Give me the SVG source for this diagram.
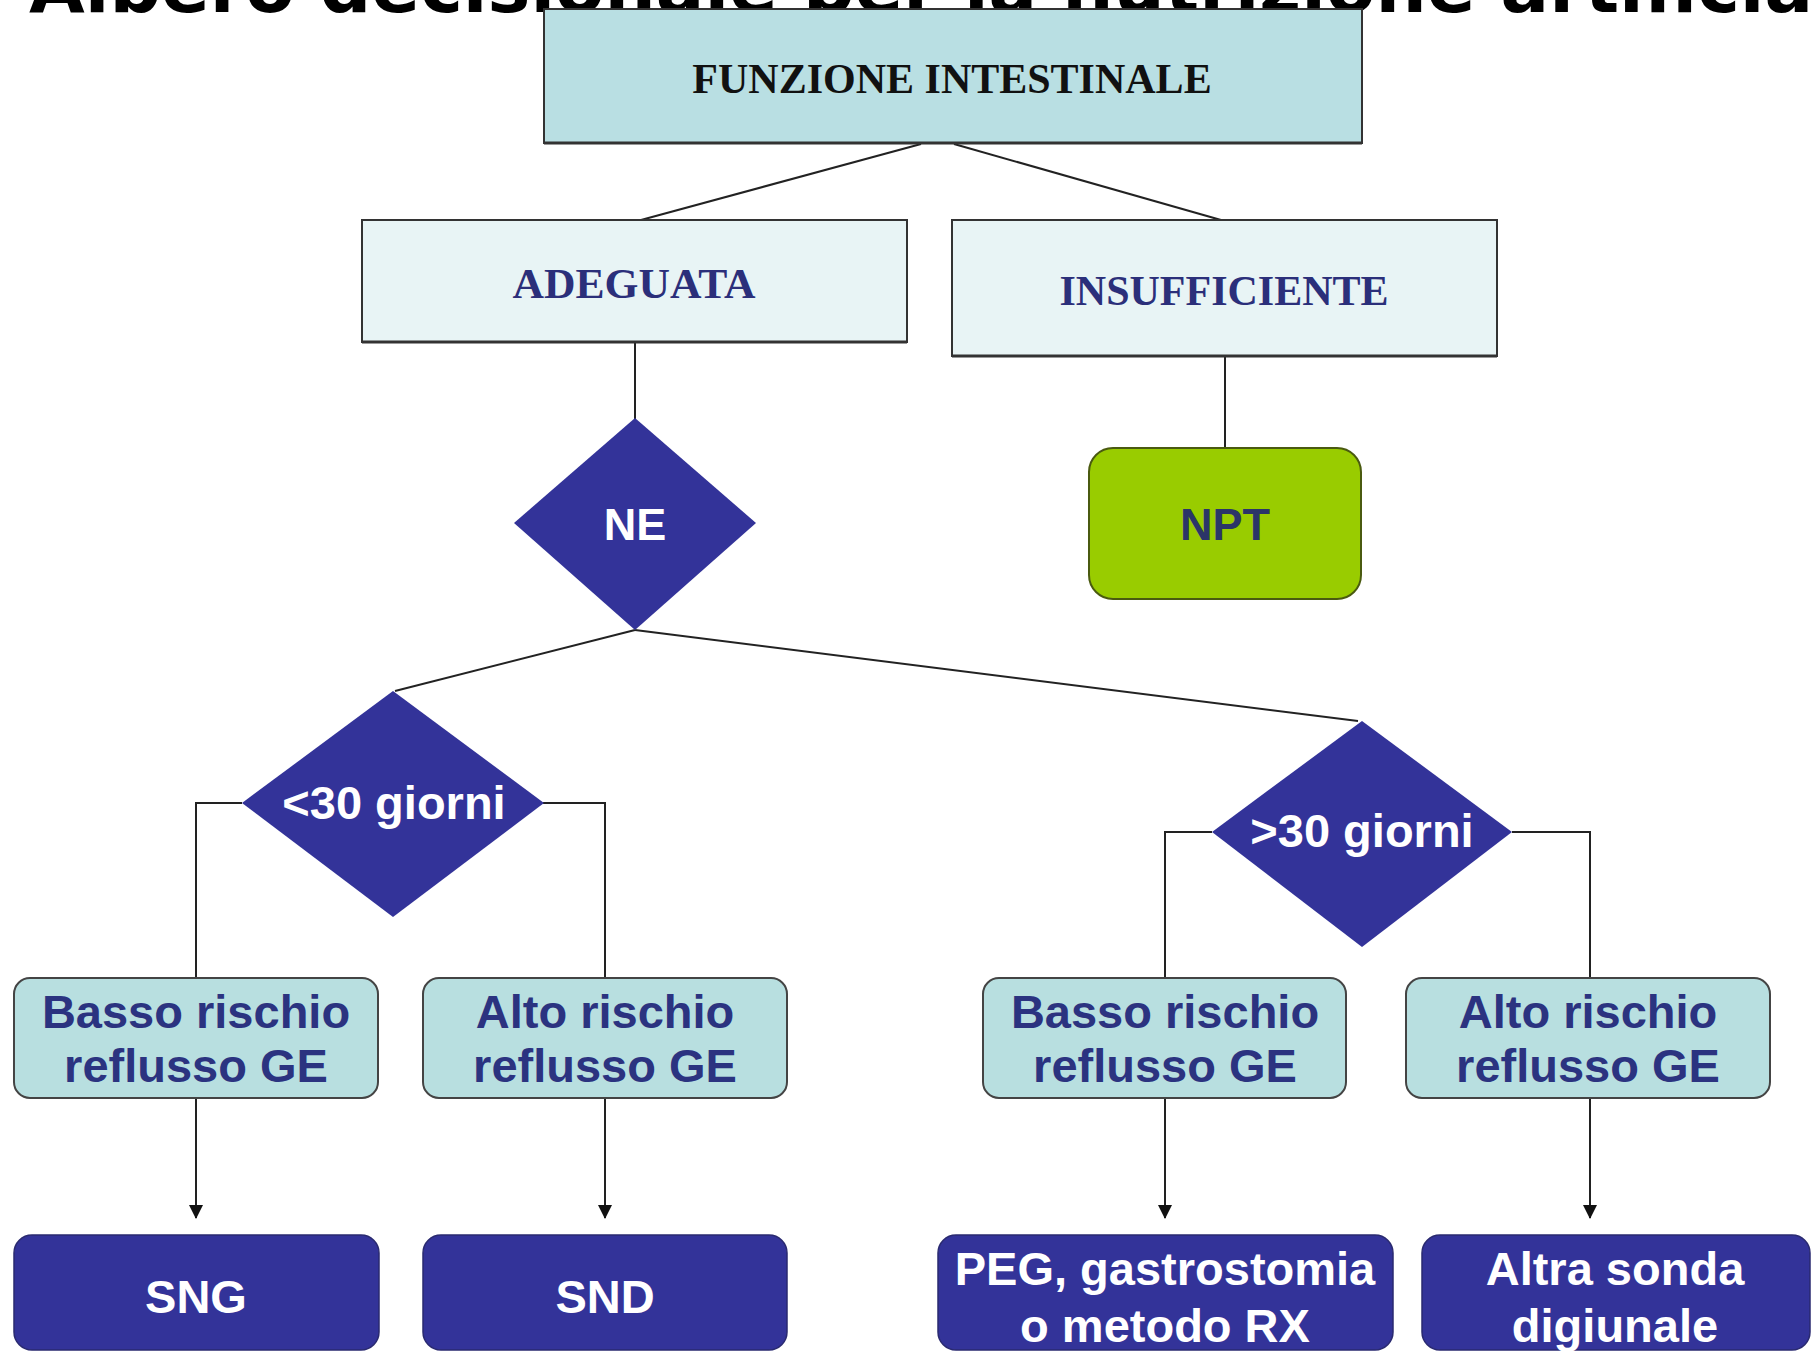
<svg xmlns="http://www.w3.org/2000/svg" width="1814" height="1352" viewBox="0 0 1814 1352">
<defs>
<marker id="arr" markerWidth="14" markerHeight="14" refX="13" refY="7" orient="auto" markerUnits="userSpaceOnUse" viewBox="0 0 14 14">
<path d="M0,0 L14,7 L0,14 Z" fill="#111"/>
</marker>
</defs>
<style>
.title{font-family:"DejaVu Sans",Verdana,sans-serif;font-weight:bold;font-size:72px;fill:#000}
.serif{font-family:"Liberation Serif","Times New Roman",serif;font-weight:bold;font-size:42px;text-anchor:middle}
.sans{font-family:"Liberation Sans",Arial,sans-serif;font-weight:bold;font-size:47px;text-anchor:middle}
.w{fill:#ffffff}
.n{fill:#2b3380}
.line{stroke:#222;stroke-width:2;fill:none}
.sq{stroke:#333;stroke-width:2}
.risk{fill:#b8dfe0;stroke:#444;stroke-width:2}
.dk{fill:#333399;stroke:#2a2a70;stroke-width:1.5}
.dia{fill:#333399}
</style>
<rect x="0" y="0" width="1814" height="1352" fill="#ffffff"/>

<text class="title" x="29" y="12">Albero decisionale per la nutrizione artificiale</text>

<g id="connectors">
<line class="line" x1="921" y1="144" x2="641" y2="220"/>
<line class="line" x1="954" y1="144" x2="1221" y2="220"/>
<line class="line" x1="635" y1="342" x2="635" y2="419"/>
<line class="line" x1="1225" y1="356" x2="1225" y2="448"/>
<line class="line" x1="635" y1="630" x2="395" y2="691"/>
<line class="line" x1="635" y1="630" x2="1358" y2="721"/>
<polyline class="line" points="242,803 196,803 196,978"/>
<polyline class="line" points="543,803 605,803 605,978"/>
<polyline class="line" points="1212,832 1165,832 1165,978"/>
<polyline class="line" points="1512,832 1590,832 1590,978"/>
<line class="line" x1="196" y1="1098" x2="196" y2="1218" marker-end="url(#arr)"/>
<line class="line" x1="605" y1="1098" x2="605" y2="1218" marker-end="url(#arr)"/>
<line class="line" x1="1165" y1="1098" x2="1165" y2="1218" marker-end="url(#arr)"/>
<line class="line" x1="1590" y1="1098" x2="1590" y2="1218" marker-end="url(#arr)"/>
</g>

<g id="funzione">
<rect x="544" y="9" width="818" height="134" fill="#b9dfe3" class="sq"/>
<line x1="544" y1="143" x2="1362" y2="143" stroke="#333" stroke-width="3"/>
<text class="serif" x="952" y="93" fill="#111">FUNZIONE INTESTINALE</text>
</g>

<g id="adeguata">
<rect x="362" y="220" width="545" height="122" fill="#e8f4f5" class="sq"/>
<line x1="362" y1="342" x2="907" y2="342" stroke="#333" stroke-width="3"/>
<text class="serif" x="634" y="298" fill="#2b2f7a" textLength="243" lengthAdjust="spacingAndGlyphs">ADEGUATA</text>
</g>

<g id="insufficiente">
<rect x="952" y="220" width="545" height="136" fill="#e8f4f5" class="sq"/>
<line x1="952" y1="356" x2="1497" y2="356" stroke="#333" stroke-width="3"/>
<text class="serif" x="1224" y="305" fill="#2b2f7a">INSUFFICIENTE</text>
</g>

<g id="ne">
<polygon class="dia" points="635,418 756,523 635,630 514,523"/>
<text class="sans w" x="635" y="540" style="font-size:45px">NE</text>
</g>

<g id="npt">
<rect x="1089" y="448" width="272" height="151" rx="24" ry="24" fill="#99cc00" stroke="#4a5a10" stroke-width="2"/>
<text class="sans" x="1225" y="540" fill="#2b3568" style="font-size:45px">NPT</text>
</g>

<g id="meno30">
<polygon class="dia" points="393,691 544,803 393,917 242,803"/>
<text class="sans w" x="394" y="819">&lt;30 giorni</text>
</g>

<g id="piu30">
<polygon class="dia" points="1362,721 1512,832 1362,947 1212,832"/>
<text class="sans w" x="1362" y="847">&gt;30 giorni</text>
</g>

<g id="basso1">
<rect class="risk" x="14" y="978" width="364" height="120" rx="16" ry="16"/>
<text class="sans n" x="196" y="1028">Basso rischio</text>
<text class="sans n" x="196" y="1082">reflusso GE</text>
</g>

<g id="alto1">
<rect class="risk" x="423" y="978" width="364" height="120" rx="16" ry="16"/>
<text class="sans n" x="605" y="1028">Alto rischio</text>
<text class="sans n" x="605" y="1082">reflusso GE</text>
</g>

<g id="basso2">
<rect class="risk" x="983" y="978" width="363" height="120" rx="16" ry="16"/>
<text class="sans n" x="1165" y="1028">Basso rischio</text>
<text class="sans n" x="1165" y="1082">reflusso GE</text>
</g>

<g id="alto2">
<rect class="risk" x="1406" y="978" width="364" height="120" rx="16" ry="16"/>
<text class="sans n" x="1588" y="1028">Alto rischio</text>
<text class="sans n" x="1588" y="1082">reflusso GE</text>
</g>

<g id="sng">
<rect class="dk" x="14" y="1235" width="365" height="115" rx="18" ry="18"/>
<text class="sans w" x="196" y="1313">SNG</text>
</g>

<g id="snd">
<rect class="dk" x="423" y="1235" width="364" height="115" rx="18" ry="18"/>
<text class="sans w" x="605" y="1313">SND</text>
</g>

<g id="peg">
<rect class="dk" x="938" y="1235" width="455" height="115" rx="18" ry="18"/>
<text class="sans w" x="1165" y="1285">PEG, gastrostomia</text>
<text class="sans w" x="1165" y="1342">o metodo RX</text>
</g>

<g id="altra">
<rect class="dk" x="1422" y="1235" width="388" height="115" rx="18" ry="18"/>
<text class="sans w" x="1615" y="1285">Altra sonda</text>
<text class="sans w" x="1615" y="1342">digiunale</text>
</g>
</svg>
